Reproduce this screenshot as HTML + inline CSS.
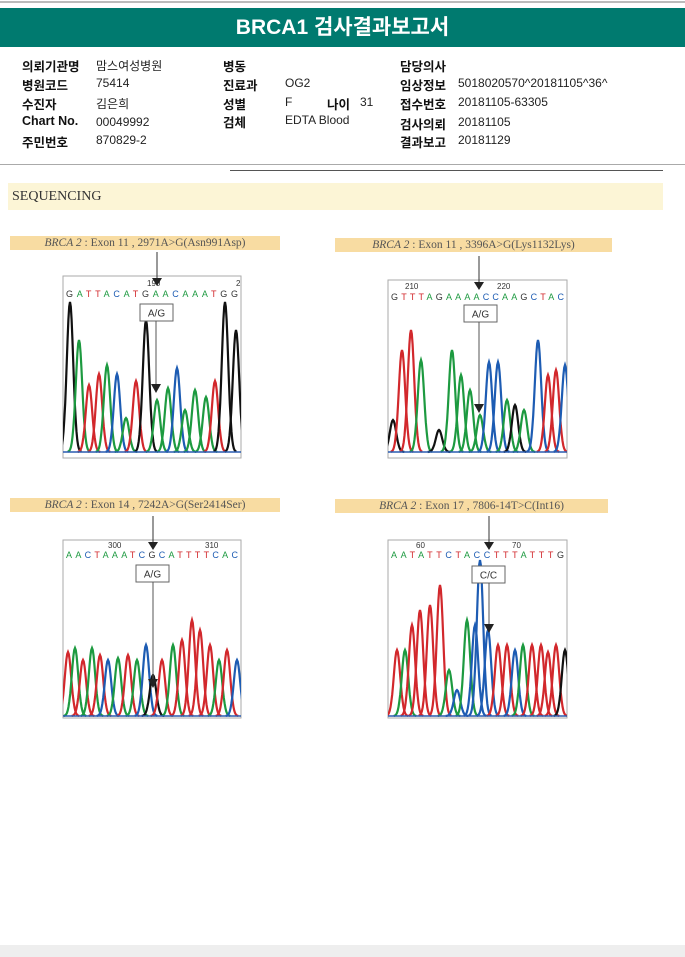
<!DOCTYPE html>
<html><head><meta charset="utf-8"><style>
body{margin:0;width:685px;height:957px;background:#fff;position:relative;overflow:hidden;font-family:"Liberation Sans","Noto Sans CJK KR",sans-serif}
.a{position:absolute}
.lb{font-weight:bold;font-size:12.5px;color:#111}
.v{font-size:12px;color:#222}
.tb{position:absolute;height:14px;background:#f8dca2;font-family:"Liberation Serif",serif;font-size:11.5px;color:#555;text-align:center;line-height:14px}
</style></head><body>
<div class="a" style="left:0;top:1px;width:685px;height:2px;background:#bbb"></div>
<div class="a" style="left:0;top:8px;width:685px;height:39px;background:#007a6f;color:#fff;font-weight:bold;font-size:21px;text-align:center;line-height:39px">BRCA1 검사결과보고서</div>
<div>
<span class="a lb" style="left:22px;top:56px">의뢰기관명</span><span class="a v" style="left:96px;top:57px">맘스여성병원</span>
<span class="a lb" style="left:22px;top:75px">병원코드</span><span class="a v" style="left:96px;top:76px">75414</span>
<span class="a lb" style="left:22px;top:94px">수진자</span><span class="a v" style="left:96px;top:95px">김은희</span>
<span class="a lb" style="left:22px;top:114px">Chart No.</span><span class="a v" style="left:96px;top:115px">00049992</span>
<span class="a lb" style="left:22px;top:132px">주민번호</span><span class="a v" style="left:96px;top:133px">870829-2</span>
<span class="a lb" style="left:223px;top:56px">병동</span>
<span class="a lb" style="left:223px;top:75px">진료과</span><span class="a v" style="left:285px;top:76px">OG2</span>
<span class="a lb" style="left:223px;top:94px">성별</span><span class="a v" style="left:285px;top:95px">F</span>
<span class="a lb" style="left:327px;top:94px">나이</span><span class="a v" style="left:360px;top:95px">31</span>
<span class="a lb" style="left:223px;top:112px">검체</span><span class="a v" style="left:285px;top:113px">EDTA Blood</span>
<span class="a lb" style="left:400px;top:56px">담당의사</span>
<span class="a lb" style="left:400px;top:75px">임상정보</span><span class="a v" style="left:458px;top:76px">5018020570^20181105^36^</span>
<span class="a lb" style="left:400px;top:94px">접수번호</span><span class="a v" style="left:458px;top:95px">20181105-63305</span>
<span class="a lb" style="left:400px;top:114px">검사의뢰</span><span class="a v" style="left:458px;top:115px">20181105</span>
<span class="a lb" style="left:400px;top:132px">결과보고</span><span class="a v" style="left:458px;top:133px">20181129</span>
</div>
<div class="a" style="left:0;top:164px;width:685px;height:1px;background:#aaa"></div>
<div class="a" style="left:230px;top:170px;width:433px;height:1px;background:#555"></div>
<div class="a" style="left:8px;top:183px;width:655px;height:27px;background:#fcf5d6;font-family:'Liberation Serif',serif;font-size:14px;color:#333;line-height:27px;padding-left:4px;box-sizing:border-box">SEQUENCING</div>
<div class="tb" style="left:10px;top:236px;width:270px"><i>BRCA 2</i> : Exon 11 , 2971A&gt;G(Asn991Asp)</div>
<div class="tb" style="left:335px;top:238px;width:277px"><i>BRCA 2</i> : Exon 11 , 3396A&gt;G(Lys1132Lys)</div>
<div class="tb" style="left:10px;top:498px;width:270px"><i>BRCA 2</i> : Exon 14 , 7242A&gt;G(Ser2414Ser)</div>
<div class="tb" style="left:335px;top:499px;width:273px"><i>BRCA 2</i> : Exon 17 , 7806-14T&gt;C(Int16)</div>
<div class="a" style="left:0;top:945px;width:685px;height:12px;background:#eee"></div>
<svg id="s" class="a" style="left:0;top:0" width="685" height="957"></svg>
<script>
const p1Colors=["k","g","r","r","g","b","g","r","k","g","g","b","g","g","g","r","k","k"];
const p1Pos=[70,79,89,99,107,117,126,136,146,157,168,177,185,195,206,215,225,236];
const p1Tops=[302,340,385,374,365,374,418,381,320,400,388,368,410,390,397,381,302,330];
const p2Colors=["k","r","r","g","k","g","g","g","g","b","b","g","k","g","b","r","r","b"];
const p2Pos=[393,402,411,421,439,452,461,470,480,489,498,507,515,524,538,548,556,565];
const p2Tops=[420,350,330,360,430,350,375,390,415,362,362,400,405,410,340,375,370,365];
const p3Colors=["r","g","r","g","r","b","g","r","g","b","k","r","g","r","r","r","r","g","r","b"];
const p3Pos=[68,75,83,92,100,108,118,128,137,146,153,162,173,182,192,200,210,219,227,237];
const p3Tops=[652,648,660,648,655,660,658,655,660,645,675,660,645,640,620,630,645,660,650,660];
const p4Colors=["r","g","r","r","r","r","g","b","g","b","b","b","r","r","b","g","r","r","r","r","k"];
const p4Pos=[397,405,412,420,430,440,449,457,467,475,480,488,498,507,515,523,532,541,548,556,565];
const p4Tops=[650,650,625,610,605,585,670,690,620,625,560,630,645,645,650,645,645,645,652,645,650];
const C={k:"#111",g:"#1d9a40",r:"#d2282c",b:"#1d5cb3"};
const BC={G:"#333",A:"#1d9a40",T:"#d2282c",C:"#1d5cb3"};
const s=document.getElementById('s');const NS="http://www.w3.org/2000/svg";
function mk(t,a,par){const e=document.createElementNS(NS,t);for(const k in a)e.setAttribute(k,a[k]);(par||s).appendChild(e);return e;}
function panel(id,x0,y0,x1,y1,base,cols,pos,tops,seq,seqY,labels,arrowX,box,varX,varY){
 const r=mk('rect',{x:x0,y:y0,width:x1-x0,height:y1-y0,fill:'#fff',stroke:'#aaa'});
 
 const cp=mk('clipPath',{id:'c'+id});mk('rect',{x:x0,y:y0,width:x1-x0,height:y1-y0},cp);
 const g=mk('g',{'clip-path':'url(#c'+id+')'});
 for(let i=0;i<pos.length;i++){
  const cx=pos[i],h=base-tops[i],w=4.2;let d='';
  for(let t=-3.5;t<=3.5;t+=0.25){const x=cx+t*w/1.3;const y=base-h*Math.exp(-t*t/2);d+=(d?'L':'M')+x.toFixed(1)+','+y.toFixed(1);}
  const p=mk('path',{d:d,fill:'none',stroke:C[cols[i]],'stroke-width':2.2},g);
  
 }
 mk('line',{x1:x0,y1:base,x2:x1,y2:base,stroke:'#2a5cb0','stroke-width':1.5});
 const tx=mk('text',{x:x0+3,y:seqY,'font-size':9,'font-family':'Liberation Sans',textLength:x1-x0-6,lengthAdjust:'spacing'});
 
 for(const ch of seq){const ts=mk('tspan',{fill:BC[ch]},tx);ts.textContent=ch;}
 labels.forEach(l=>{const t=mk('text',{x:l[0],y:l[1],'font-size':8,'font-family':'Liberation Sans',fill:'#333'});t.textContent=l[2];});
 mk('line',{x1:arrowX,y1:y0-24,x2:arrowX,y2:y0+4,stroke:'#333'});
 mk('path',{d:`M${arrowX-5},${y0+2}L${arrowX+5},${y0+2}L${arrowX},${y0+10}Z`,fill:'#222'});
 const b=mk('rect',{x:box[0],y:box[1],width:33,height:17,fill:'#fff',stroke:'#666'});
 
 const bt=mk('text',{x:box[0]+16.5,y:box[1]+12.5,'font-size':10,'text-anchor':'middle','font-family':'Liberation Sans',fill:'#333'});bt.textContent=box[2];
 mk('line',{x1:varX,y1:box[1]+17,x2:varX,y2:varY-8,stroke:'#555'});
 mk('path',{d:`M${varX-5},${varY-9}L${varX+5},${varY-9}L${varX},${varY}Z`,fill:'#222'});
}
panel('p1',63,276,241,458,452,p1Colors,p1Pos,p1Tops,'GATTACATGAACAAATGG',297,[[147,286,'190'],[236,286,'2']],157,[140,304,'A/G'],156,393);
panel('p2',388,280,567,458,452,p2Colors,p2Pos,p2Tops,'GTTTAGAAAACCAAGCTAC',300,[[405,289,'210'],[497,289,'220']],479,[464,305,'A/G'],479,413);
panel('p3',63,540,241,718,716,p3Colors,p3Pos,p3Tops,'AACTAAATCGCATTTTCAC',558,[[108,548,'300'],[205,548,'310']],153,[136,565,'A/G'],153,688);
panel('p4',388,540,567,718,716,p4Colors,p4Pos,p4Tops,'AATATTCTACCTTTATTTG',558,[[416,548,'60'],[512,548,'70']],489,[472,566,'C/C'],489,633);
</script>
</body></html>
